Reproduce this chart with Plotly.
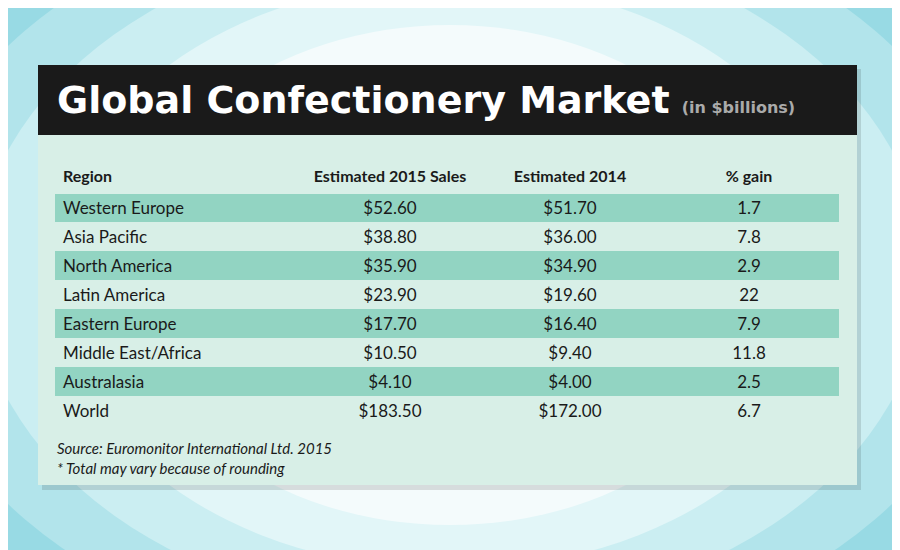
import plotly.graph_objects as go

regions = ["Western Europe", "Asia Pacific", "North America", "Latin America",
           "Eastern Europe", "Middle East/Africa", "Australasia", "World"]
sales_2015 = ["$52.60", "$38.80", "$35.90", "$23.90", "$17.70", "$10.50", "$4.10", "$183.50"]
sales_2014 = ["$51.70", "$36.00", "$34.90", "$19.60", "$16.40", "$9.40", "$4.00", "$172.00"]
gain = ["1.7", "7.8", "2.9", "22", "7.9", "11.8", "2.5", "6.7"]
headers = ["Region", "Estimated 2015 Sales", "Estimated 2014", "% gain"]

W, H = 900, 550
OFF = 8  # page offset
panel = "#d8efe7"
stripe = "#92d4c2"
FONT = "Lato"


def px(x0, y0, x1, y1):
    return dict(x0=(x0 - OFF) / W, x1=(x1 - OFF) / W, y0=1 - (y1 - OFF) / H, y1=1 - (y0 - OFF) / H)


fills = [stripe if i % 2 == 0 else panel for i in range(len(regions))]

fig = go.Figure(go.Table(
    domain=dict(x=[(55 - OFF) / W, (838 - OFF) / W], y=[1 - (428 - OFF) / H, 1 - (158 - OFF) / H]),
    columnwidth=[245, 180, 180, 178],
    header=dict(values=["<b>%s</b>" % h for h in headers],
                align=["left", "center", "center", "center"],
                fill_color=panel, line_color=panel, height=32,
                font=dict(family=FONT, size=16, color="#1a1a1a")),
    cells=dict(values=[regions, sales_2015, sales_2014, gain],
               align=["left", "center", "center", "center"],
               fill_color=[fills] * 4, line=dict(color=[fills] * 4, width=1), height=29,
               font=dict(family=FONT, size=17, color="#1a1a1a")),
))

shapes = []
glow = ["#7fd0dd", "#98dae4", "#b2e4eb", "#cbeef2", "#e2f6f8", "#f4fbfc"]
for i, c in enumerate(glow):
    k = i * 75
    shapes.append(dict(type="circle", xref="paper", yref="paper", fillcolor=c, line_width=0,
                       layer="below", **px(-250 + k, -200 + k * 0.6, 1150 - k, 750 - k * 0.6)))
shapes.append(dict(type="rect", xref="paper", yref="paper", fillcolor="rgba(0,0,0,0.12)",
                   line_width=0, layer="below", **px(42, 69, 861, 490)))
shapes.append(dict(type="rect", xref="paper", yref="paper", fillcolor=panel,
                   line_width=0, layer="below", **px(38, 65, 857, 485)))
shapes.append(dict(type="rect", xref="paper", yref="paper", fillcolor="#1a1a1a",
                   line_width=0, layer="below", **px(38, 65, 857, 135)))

fig.update_layout(
    width=W, height=H, margin=dict(l=0, r=0, t=0, b=0),
    paper_bgcolor="#7fd0dd", shapes=shapes,
    annotations=[
        dict(text="<b>Global Confectionery Market</b> <span style='font-size:16px;color:#aaaaaa'><b>(in $billions)</b></span>",
             x=(55 - OFF) / W, y=1 - (100 - OFF) / H, xref="paper", yref="paper", xanchor="left", yanchor="middle",
             showarrow=False, font=dict(family="DejaVu Sans", size=38, color="white")),
        dict(text="<i>Source: Euromonitor International Ltd. 2015<br>* Total may vary because of rounding</i>",
             x=(55 - OFF) / W, y=1 - (458 - OFF) / H, xref="paper", yref="paper", xanchor="left", yanchor="middle",
             align="left", showarrow=False, font=dict(family=FONT, size=15, color="#1a1a1a")),
    ],
)
fig.write_html("out.html")
